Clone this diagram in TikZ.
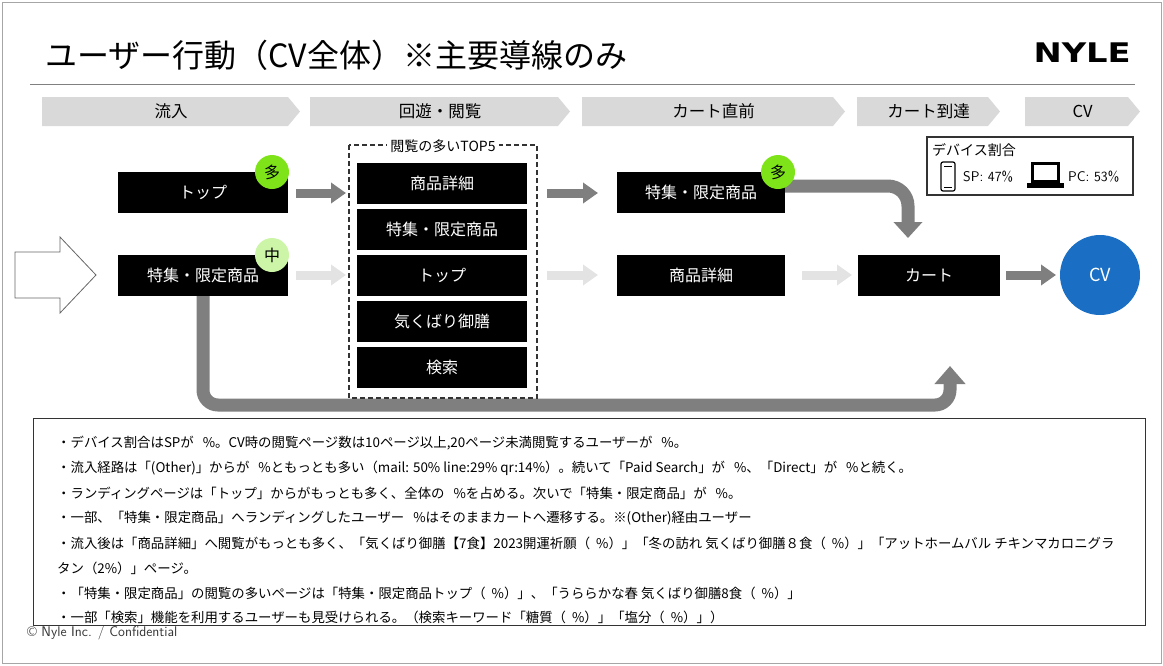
\documentclass[tikz,border=0pt]{standalone}
\usepackage{fontspec}
\setmainfont{Noto Sans CJK JP}
\newfontfamily\logofont{DejaVu Sans}
\usetikzlibrary{arrows.meta,shapes.geometric}
\definecolor{chev}{HTML}{D9D9D9}
\definecolor{darkarr}{HTML}{7F7F7F}
\definecolor{lightarr}{HTML}{E3E3E3}
\definecolor{cvblue}{HTML}{1A6FC4}
\definecolor{badgehi}{HTML}{7FE31A}
\definecolor{badgemid}{HTML}{CCF5A8}
\begin{document}
\begin{tikzpicture}[x=1pt,y=-1pt,
 blk/.style={fill=black,text=white,minimum height=41pt,font=\fontsize{16}{18}\selectfont,inner sep=0pt},
 badge/.style={circle,minimum size=34pt,inner sep=0pt,font=\fontsize{16}{17}\selectfont},
 barr/.style={line width=9pt,-{Triangle[length=15pt,width=20pt]}},
 note/.style={anchor=west,font=\fontsize{13.4}{15}\selectfont,inner sep=0pt}]
\useasboundingbox (0,0) rectangle (1163,665);
\draw[gray!70,line width=0.8pt] (2,2) rectangle (1161,663);
\node[anchor=west,font=\fontsize{32}{34}\selectfont,inner sep=0pt] (title) at (45,55) {ユーザー行動（CV全体）※主要導線のみ};
\node[anchor=east,font=\logofont\bfseries\fontsize{27}{30}\selectfont,xscale=1.25,inner sep=0pt] (logo) at (1131,53) {NYLE};
\draw[gray,line width=0.8pt] (30,84) -- (1135,84);
% chevrons
\foreach \a/\b/\t/\n in {42/300/流入/c1,310/570/回遊・閲覧/c2,582/845/カート直前/c3,857/1000/カート到達/c4,1025/1140/CV/c5}{
 \fill[chev] (\a,97) -- (\b-12,97) -- (\b,111.5) -- (\b-12,126) -- (\a,126) -- cycle;
 \node[font=\fontsize{16.5}{18}\selectfont] (\n) at ({(\a+\b)/2},111.5) {\t};
}
% big left arrow
\draw[gray!80!black,line width=0.8pt,fill=white] (15,252) -- (60,252) -- (60,237) -- (96,275) -- (60,313) -- (60,298) -- (15,298) -- cycle;
% bottom thick arrow
\draw[darkarr,line width=13pt,-{Triangle[length=18pt,width=30pt]}] (203,296) -- (203,390) arc[start angle=180,end angle=90,radius=15] -- (935,405) arc[start angle=90,end angle=0,radius=15] -- (950,366);
% top right curved arrow
\draw[darkarr,line width=13pt,-{Triangle[length=16pt,width=28pt]}] (785,186) -- (888,186) arc[start angle=270,end angle=360,radius=20] -- (908,238);
% left boxes
\node[blk,minimum width=170pt] (top) at (203,192.5) {トップ};
\node[blk,minimum width=170pt] (tok) at (203,275.5) {特集・限定商品};
\node[badge,fill=badgehi] (b1) at (272,172) {多};
\node[badge,fill=badgemid] (b2) at (272,255) {中};
% dashed box
\draw[dash pattern=on 5pt off 3pt,line width=1.5pt,gray!40!black] (349,145) rectangle (537,398);
\node[fill=white,font=\fontsize{14}{15}\selectfont,inner sep=3pt] (top5) at (443,146) {閲覧の多いTOP5};
\node[blk,minimum width=170pt] (m1) at (442,183.5) {商品詳細};
\node[blk,minimum width=170pt] (m2) at (442,229.5) {特集・限定商品};
\node[blk,minimum width=170pt] (m3) at (442,275.5) {トップ};
\node[blk,minimum width=170pt] (m4) at (442,321.5) {気くばり御膳};
\node[blk,minimum width=170pt] (m5) at (442,367.5) {検索};
\node[blk,minimum width=168pt] (r1) at (701,192.5) {特集・限定商品};
\node[blk,minimum width=168pt] (r2) at (701,275.5) {商品詳細};
\node[badge,fill=badgehi] (b3) at (778,172) {多};
\node[blk,minimum width=142pt] (cart) at (929,275.5) {カート};
\node[circle,fill=cvblue,text=white,minimum size=80pt,font=\fontsize{18}{19}\selectfont] (cv) at (1100,275) {CV};
% small arrows
\draw[barr,darkarr] (296,193) -- (346,193);
\draw[barr,lightarr] (296,275) -- (346,275);
\draw[barr,darkarr] (547,193) -- (598,193);
\draw[barr,lightarr] (547,275) -- (598,275);
\draw[barr,lightarr] (802,275) -- (852,275);
\draw[barr,darkarr] (1006,275) -- (1056,275);
% device box
\draw[gray!40!black,line width=1.2pt,fill=white] (927,137) rectangle (1133,195);
\node[anchor=west,font=\fontsize{14}{15}\selectfont,inner sep=0pt] (dev) at (932,150) {デバイス割合};
\draw[line width=1.2pt,rounded corners=2pt] (941,162) rectangle (955,191);
\draw[line width=0.8pt] (944,166) -- (952,166) (944,187) -- (952,187);
\node[anchor=west,font=\sffamily\fontsize{14}{15}\selectfont,inner sep=0pt] (sp) at (963,177) {SP: 47\%};
\fill (1031,162) rectangle (1060,183);
\fill[white] (1034,165) rectangle (1057,180);
\fill (1027,183) rectangle (1064,188);
\node[anchor=west,font=\sffamily\fontsize{14}{15}\selectfont,inner sep=0pt] (pc) at (1068,177) {PC: 53\%};
% notes box
\draw[gray!40!black,line width=1pt] (33,418) rectangle (1145,625);
\node[note] (n1) at (57,443) {・デバイス割合はSPが \ \ \%。CV時の閲覧ページ数は10ページ以上,20ページ未満閲覧するユーザーが \ \ \%。};
\node[note] (n2) at (57,468) {・流入経路は「(Other)」からが \ \ \%ともっとも多い（mail: 50\% line:29\% qr:14\%）。続いて「Paid Search」が \ \ \%、「Direct」が \ \ \%と続く。};
\node[note] (n3) at (57,493) {・ランディングページは「トップ」からがもっとも多く、全体の \ \ \%を占める。次いで「特集・限定商品」が \ \ \%。};
\node[note] (n4) at (57,518) {・一部、「特集・限定商品」へランディングしたユーザー \ \ \%はそのままカートへ遷移する。※(Other)経由ユーザー};
\node[note] (n5) at (57,543) {・流入後は「商品詳細」へ閲覧がもっとも多く、「気くばり御膳【7食】2023開運祈願（ \ \%）」「冬の訪れ 気くばり御膳８食（ \ \%）」「アットホームバル チキンマカロニグラ};
\node[note] (n6) at (57,568) {タン（2\%）」ページ。};
\node[note] (n7) at (57,593) {・「特集・限定商品」の閲覧の多いページは「特集・限定商品トップ（ \ \%）」、「うららかな春 気くばり御膳8食（ \ \%）」};
\node[note] (n8) at (57,617) {・一部「検索」機能を利用するユーザーも見受けられる。（検索キーワード「糖質（ \ \%）」「塩分（ \ \%）」）};
\node[anchor=west,font=\sffamily\fontsize{14}{15}\selectfont,text=gray!40!black,inner sep=0pt] (foot) at (27,633) {© Nyle Inc. / Confidential};
\end{tikzpicture}
\end{document}
